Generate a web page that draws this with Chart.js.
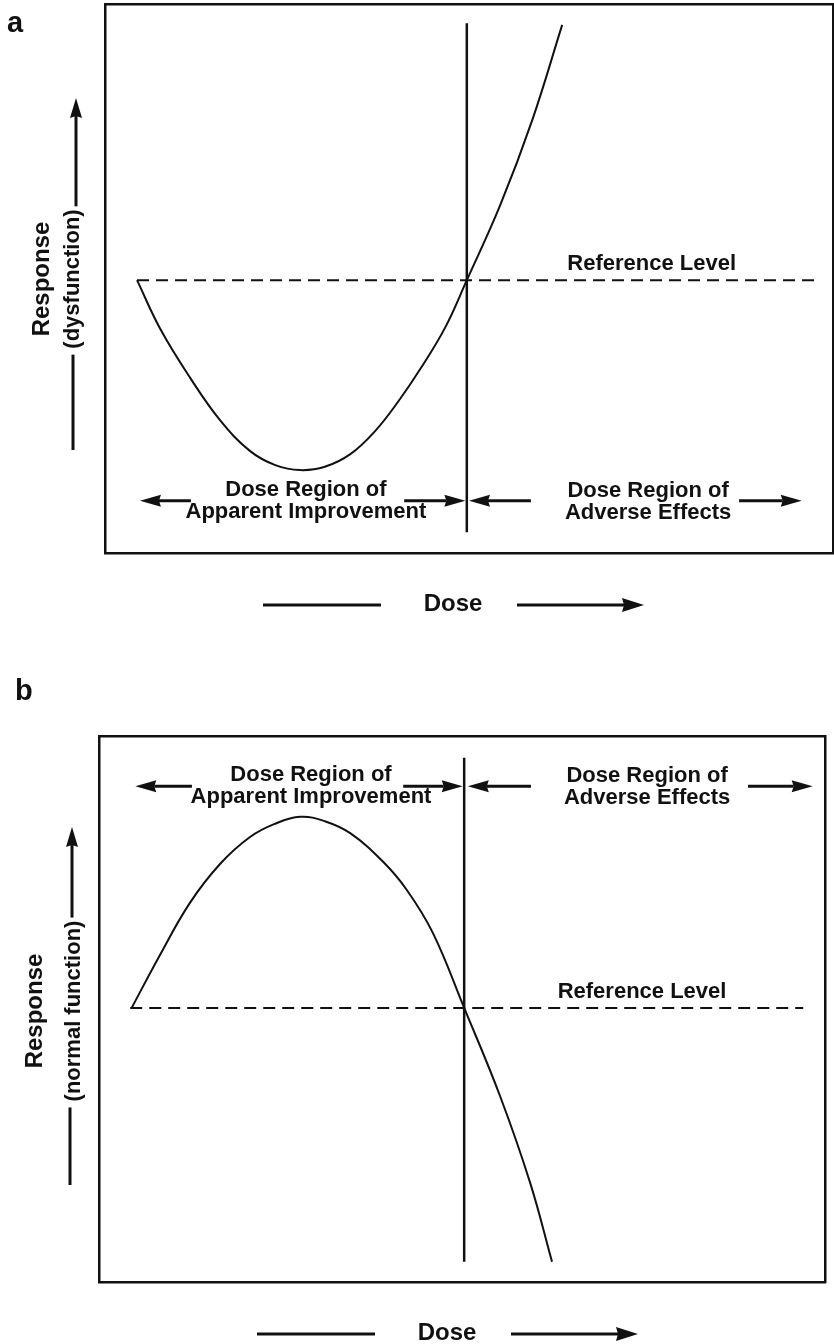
<!DOCTYPE html>
<html>
<head>
<meta charset="utf-8">
<script src="https://cdn.jsdelivr.net/npm/chart.js@4"></script>
<style>
  body { margin: 0; background: #fff; }
  canvas { display: block; }
</style>
</head>
<body>
<canvas id="chartA" width="834" height="672"></canvas>
<canvas id="chartB" width="834" height="672"></canvas>
<script>
// Panel a: response measured as dysfunction (U-shaped curve)
const doseA = [0.44, 0.76, 1.17, 1.58, 1.99, 2.34, 2.68, 3.02, 3.37, 3.71, 4.05, 4.33, 4.67, 4.97, 5.43, 5.87, 6.28];
const respA = [4.97, 4.08, 3.19, 2.42, 1.86, 1.60, 1.51, 1.57, 1.80, 2.22, 2.80, 3.35, 4.10, 4.97, 6.34, 7.89, 9.62];
const refLevelA = 4.97;
const refSpanA = [0.44, 9.75];
const thresholdA = 4.97;
const thresholdSpanA = [0.38, 9.65];

// Panel b: response measured as normal function (inverted U)
const doseB = [0.45, 0.84, 1.25, 1.67, 2.08, 2.42, 2.77, 3.11, 3.46, 3.91, 4.24, 4.60, 5.03, 5.52, 5.94, 6.24];
const respB = [5.02, 5.99, 6.94, 7.66, 8.15, 8.39, 8.52, 8.44, 8.22, 7.70, 7.18, 6.39, 5.02, 3.42, 1.81, 0.37];
const refLevelB = 5.02;
const refSpanB = [0.43, 9.70];
const thresholdB = 5.03;
const thresholdSpanB = [0.37, 9.60];

// texts
const yLabelA = ["Response", "(dysfunction)"];
const yLabelB = ["Response", "(normal function)"];
const regionLeft = ["Dose Region of", "Apparent Improvement"];
const regionRight = ["Dose Region of", "Adverse Effects"];
const refText = "Reference Level";
const xLabel = "Dose";

const INK = "#111";
const FONT = '"Liberation Sans", Arial, Helvetica, sans-serif';

function arrow(ctx, x1, y1, x2, y2, head, half, lw) {
  const ang = Math.atan2(y2 - y1, x2 - x1);
  const bx = x2 - Math.cos(ang) * head, by = y2 - Math.sin(ang) * head;
  ctx.lineWidth = lw;
  ctx.beginPath(); ctx.moveTo(x1, y1); ctx.lineTo(bx + Math.cos(ang) * 2, by + Math.sin(ang) * 2); ctx.stroke();
  ctx.beginPath();
  ctx.moveTo(x2, y2);
  ctx.lineTo(bx + Math.sin(ang) * half, by - Math.cos(ang) * half);
  ctx.lineTo(bx + Math.cos(ang) * 2, by + Math.sin(ang) * 2);
  ctx.lineTo(bx - Math.sin(ang) * half, by + Math.cos(ang) * half);
  ctx.closePath(); ctx.fill();
}

function rotatedText(ctx, text, x, y) {
  ctx.save();
  ctx.translate(x, y);
  ctx.rotate(-Math.PI / 2);
  ctx.textAlign = "center";
  ctx.textBaseline = "alphabetic";
  ctx.fillText(text, 0, 0);
  ctx.restore();
}

// draws labels, region arrows and the axis captions
function makeAnnotations(L) {
  return {
    id: "annotate",
    afterDraw(chart) {
      const { ctx, chartArea: area, scales: { x, y } } = chart;
      ctx.save();
      ctx.fillStyle = INK;
      ctx.strokeStyle = INK;
      ctx.lineCap = "butt";

      // panel letter
      ctx.font = "bold 29px " + FONT;
      ctx.textAlign = "left";
      ctx.textBaseline = "alphabetic";
      ctx.fillText(L.tag, L.tagX, L.tagY);

      // reference level label
      ctx.font = "bold 22px " + FONT;
      ctx.textAlign = "center";
      ctx.fillText(refText, x.getPixelForValue(L.refTextX), y.getPixelForValue(L.refLevel) - 10);

      // dose regions
      const ay = y.getPixelForValue(L.arrowY);
      L.arrows.forEach(([from, to]) => {
        arrow(ctx, x.getPixelForValue(from), ay, x.getPixelForValue(to), ay, 21, 6, 3);
      });
      const lx = x.getPixelForValue(L.leftTextX), rx = x.getPixelForValue(L.rightTextX);
      ctx.fillText(regionLeft[0], lx, ay - 5);
      ctx.fillText(regionLeft[1], lx, ay + 17);
      ctx.fillText(regionRight[0], rx, ay - 4);
      ctx.fillText(regionRight[1], rx, ay + 18);

      // y caption with arrow
      ctx.font = "bold 24px " + FONT;
      rotatedText(ctx, L.yLabel[0], L.respX, L.yMid);
      ctx.font = "bold 22px " + FONT;
      rotatedText(ctx, L.yLabel[1], L.subX, L.yMid);
      const half = ctx.measureText(L.yLabel[1]).width / 2;
      arrow(ctx, L.arrowX, L.yMid - half - 3, L.arrowX, L.yTip, 20, 6, 3);
      ctx.lineWidth = 3;
      ctx.beginPath();
      ctx.moveTo(L.lowX, L.yMid + half + 6);
      ctx.lineTo(L.lowX, L.yLow);
      ctx.stroke();

      // x caption with arrow
      const by = area.bottom + 52;
      ctx.beginPath();
      ctx.moveTo(area.left + 158, by);
      ctx.lineTo(area.left + 276, by);
      ctx.stroke();
      arrow(ctx, area.left + 412, by, area.left + 539, by, 22, 7, 3);
      ctx.font = "bold 24px " + FONT;
      ctx.textAlign = "center";
      ctx.fillText(xLabel, area.left + 348, area.bottom + 58);

      ctx.restore();
    }
  };
}

function frameAxis(position) {
  return {
    type: "linear",
    position: position,
    min: 0,
    max: 10,
    grid: { display: false, drawTicks: false },
    ticks: { display: false },
    border: { display: true, color: INK, width: 2.5 }
  };
}

function makeChart(id, dose, resp, refLevel, refSpan, threshold, thresholdSpan, padding, L) {
  const curve = dose.map((d, i) => ({ x: d, y: resp[i] }));
  return new Chart(document.getElementById(id), {
    type: "line",
    data: {
      datasets: [
        {
          data: curve,
          borderColor: INK,
          borderWidth: 2,
          tension: 0.4,
          pointRadius: 0
        },
        {
          data: [{ x: refSpan[0], y: refLevel }, { x: refSpan[1], y: refLevel }],
          borderColor: INK,
          borderWidth: 2,
          borderDash: [12, 7],
          pointRadius: 0
        },
        {
          data: [{ x: threshold, y: thresholdSpan[0] }, { x: threshold, y: thresholdSpan[1] }],
          borderColor: INK,
          borderWidth: 2.5,
          pointRadius: 0
        }
      ]
    },
    options: {
      responsive: false,
      animation: false,
      layout: { padding: padding },
      plugins: { legend: { display: false }, tooltip: { enabled: false } },
      scales: {
        x: frameAxis("bottom"),
        x2: frameAxis("top"),
        y: frameAxis("left"),
        y2: frameAxis("right")
      }
    },
    plugins: [makeAnnotations(L)]
  });
}

makeChart("chartA", doseA, respA, refLevelA, refSpanA, thresholdA, thresholdSpanA,
  { left: 105, top: 4, right: 1, bottom: 119 },
  {
    tag: "a", tagX: 7, tagY: 32,
    refLevel: refLevelA, refTextX: 7.51,
    arrowY: 0.95,
    arrows: [[1.18, 0.48], [4.11, 4.95], [5.85, 5.00], [8.71, 9.57]],
    leftTextX: 2.76, rightTextX: 7.46,
    yLabel: yLabelA, respX: 49, subX: 79, yMid: 279,
    arrowX: 76, yTip: 98, lowX: 73, yLow: 450
  });

makeChart("chartB", doseB, respB, refLevelB, refSpanB, thresholdB, thresholdSpanB,
  { left: 99, top: 64, right: 9, bottom: 62 },
  {
    tag: "b", tagX: 15, tagY: 28,
    refLevel: refLevelB, refTextX: 7.48,
    arrowY: 9.08,
    arrows: [[1.28, 0.50], [4.19, 5.01], [5.95, 5.08], [8.94, 9.83]],
    leftTextX: 2.92, rightTextX: 7.55,
    yLabel: yLabelB, respX: 42, subX: 80, yMid: 339,
    arrowX: 72, yTip: 155, lowX: 70, yLow: 513
  });
</script>
</body>
</html>
